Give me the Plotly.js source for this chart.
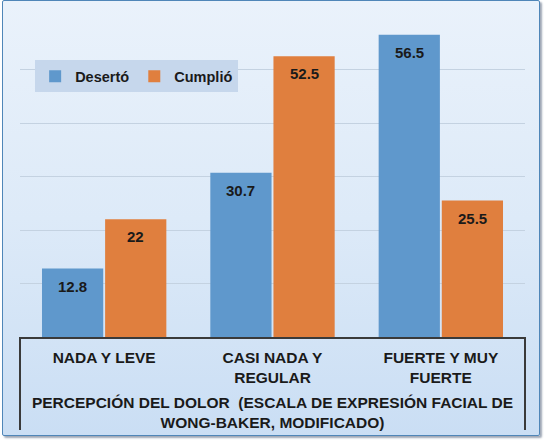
<!DOCTYPE html>
<html>
<head>
<meta charset="utf-8">
<script src="https://cdn.plot.ly/plotly-3.0.1.min.js"></script>
<style>
  html, body { margin:0; padding:0; width:546px; height:441px; overflow:hidden; background:#ffffff; }
  #frame { position:absolute; left:2px; top:0px; width:536px; height:434px;
    border:1.5px solid #4F86B8; border-radius:2px;
    background: linear-gradient(to bottom, #EAF2FB 0%, #DDEAF8 50%, #CADEF4 100%);
    box-shadow: 2px 2px 2px rgba(40,60,90,0.45); }
  #chart { position:absolute; left:0; top:0; width:546px; height:441px; }
</style>
</head>
<body>
<div id="frame"></div>
<div id="chart"></div>
<script>
const categories = ["NADA Y LEVE", "CASI NADA Y<br>REGULAR", "FUERTE Y MUY<br>FUERTE"];
const deserto = [12.8, 30.7, 56.5];
const cumplio = [22, 52.5, 25.5];
const seriesNames = ["Desertó", "Cumplió"];
const xTitle = "PERCEPCIÓN DEL DOLOR  (ESCALA DE EXPRESIÓN FACIAL DE<br>WONG-BAKER, MODIFICADO)";

const BARGAP = 0.25, GROUPGAP = 0.03;
const fam = "Liberation Sans, Arial, sans-serif";
const font = {family: fam, size: 15, color: "#1a1a1a", weight: 700};
const axFont = {family: fam, size: 15.5, color: "#1a1a1a", weight: 700};
const legFont = {family: fam, size: 14.5, color: "#1a1a1a", weight: 700};

const traces = [
  {type:"bar", name: seriesNames[0], x: categories, y: deserto,
   marker:{color:"#5F98CC", line:{width:0}}, hoverinfo:"none"},
  {type:"bar", name: seriesNames[1], x: categories, y: cumplio,
   marker:{color:"#E07F3E", line:{width:0}}, hoverinfo:"none"}
];

// data labels near top inside each bar, positioned from the data arrays
const slot = (1 - BARGAP) / 2;
const annotations = [];
[deserto, cumplio].forEach((vals, s) => {
  vals.forEach((v, i) => {
    annotations.push({x: i + (s === 0 ? -slot/2 : slot/2), y: v, xref:"x", yref:"y",
      text: String(v), showarrow:false, yanchor:"top", yshift:-7, font: font});
  });
});

const layout = {
  width:546, height:441,
  margin:{l:20, r:21, t:16, b:104},
  paper_bgcolor:"rgba(0,0,0,0)", plot_bgcolor:"rgba(0,0,0,0)",
  barmode:"group", bargap:BARGAP, bargroupgap:GROUPGAP,
  font: font,
  showlegend:true,
  legend:{orientation:"h", x:0.03, y:0.862, xanchor:"left", yanchor:"top",
    bgcolor:"#C6D7EC", borderwidth:0, font:legFont, itemwidth:30, tracegroupgap:0},
  xaxis:{type:"category", showline:true, linecolor:"#3a3a3a", linewidth:2,
    ticks:"", tickfont:axFont, ticklabelstandoff:5,
    title:{text:xTitle, font:axFont, standoff:12}},
  yaxis:{range:[0,60], dtick:10, showticklabels:false, showgrid:true,
    gridcolor:"#C4D2E1", gridwidth:1, zeroline:false, showline:false, ticks:""},
  annotations: annotations,
  shapes:[
    {type:"line", xref:"paper", yref:"paper", x0:0, x1:0, y0:0, y1:-0.29, line:{color:"#3a3a3a", width:2}},
    {type:"line", xref:"paper", yref:"paper", x0:1, x1:1, y0:0, y1:-0.29, line:{color:"#3a3a3a", width:2}}
  ]
};

Plotly.newPlot("chart", traces, layout, {staticPlot:true});
</script>
</body>
</html>
